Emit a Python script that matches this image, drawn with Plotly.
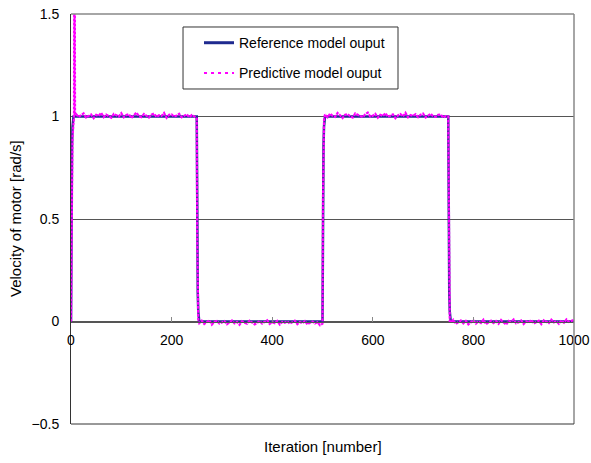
import plotly.graph_objects as go

# ---------------- data ----------------
ref_iter = [0, 1, 2, 3, 5, 250, 251, 252, 253, 255, 500, 501, 502, 503, 505,
            750, 751, 752, 753, 755, 1000]
ref_vel = [0.0, 0.63, 0.86, 0.95, 1.0, 1.0, 0.37, 0.14, 0.05, 0.0, 0.0, 0.63, 0.86, 0.95, 1.0,
           1.0, 0.37, 0.14, 0.05, 0.0, 0.0]

# predictive model output, start-up and transitions
start_iter = [0, 3, 6, 7, 8]
start_vel = [0.0, 0.9, 1.0, 2.6, 1.01]

high1 = [1.012, 0.998, 1.006, 1.015, 0.995, 1.003, 1.010, 0.992, 1.008, 1.004,
         1.018, 0.997, 1.009, 1.002, 0.994, 1.013, 1.006, 1.000, 1.016, 0.996,
         1.007, 1.011, 0.993, 1.005, 1.019, 1.001, 0.997, 1.012, 1.004, 0.995,
         1.009, 1.014, 0.998, 1.006, 1.003, 1.017, 0.994, 1.008, 1.010, 0.999,
         1.005, 1.013, 0.996, 1.002, 1.011, 0.997, 1.007, 1.001]  # from 10, step 5
fall1_iter = [250, 251, 253]
fall1_vel = [0.99, 0.40, 0.01]
low1 = [-0.008, 0.004, -0.012, -0.003, 0.006, -0.015, -0.001, 0.003, -0.010, -0.005,
        0.002, -0.013, -0.004, 0.005, -0.009, -0.002, -0.016, 0.001, -0.006, -0.011,
        0.004, -0.003, -0.014, -0.007, 0.002, -0.010, -0.001, 0.006, -0.012, -0.004,
        -0.008, 0.003, -0.015, -0.002, -0.006, 0.001, -0.011, -0.005, 0.004, -0.013,
        -0.003, -0.009, 0.002, -0.014, -0.006, 0.000, -0.010, -0.004, -0.018]  # from 255
rise2_iter = [500, 501, 503]
rise2_vel = [-0.01, 0.60, 0.98]
high2 = [1.010, 0.996, 1.014, 1.003, 0.998, 1.017, 1.006, 0.993, 1.009, 1.012,
         1.001, 0.995, 1.015, 1.007, 1.002, 0.997, 1.011, 1.019, 0.999, 1.004,
         1.013, 0.994, 1.008, 1.003, 1.016, 0.998, 1.006, 1.010, 0.992, 1.005,
         1.012, 1.000, 1.018, 0.996, 1.007, 1.003, 1.011, 0.997, 1.009, 1.014,
         0.995, 1.004, 1.013, 1.001, 0.998, 1.008, 1.010, 0.995, 1.002]  # from 505
fall2_iter = [750, 751, 753]
fall2_vel = [1.00, 0.38, 0.00]
low2 = [-0.005, 0.008, -0.012, -0.002, 0.005, -0.009, 0.003, -0.014, -0.004, 0.006,
        -0.010, 0.001, -0.007, 0.009, -0.013, -0.003, 0.004, -0.008, 0.002, -0.011,
        0.007, -0.005, -0.015, 0.003, -0.002, 0.010, -0.009, -0.004, 0.005, -0.012,
        0.001, -0.006, 0.008, -0.010, -0.003, 0.004, -0.013, 0.006, -0.001, -0.008,
        0.009, -0.004, 0.002, -0.011, 0.005, -0.006, 0.010, -0.002, 0.003, 0.008]  # from 755

x_ticks = [0, 200, 400, 600, 800, 1000]
y_ticks = [-0.5, 0, 0.5, 1, 1.5]
y_tick_text = ["\u22120.5", "0", "0.5", "1", "1.5"]

# assemble predictive series
def seg(start, vals):
    return [start + 5 * i for i in range(len(vals))]

pred_iter = (start_iter + seg(10, high1) + fall1_iter + seg(255, low1) + rise2_iter
             + seg(505, high2) + fall2_iter + seg(755, low2))
pred_vel = (start_vel + high1 + fall1_vel + low1 + rise2_vel + high2 + fall2_vel + low2)

FONT = "Liberation Sans"
BLUE = "#1f2a8f"
MAG = "#ff00ff"

fig = go.Figure()
fig.add_trace(go.Scatter(
    x=ref_iter, y=ref_vel, mode="lines", name="Reference model ouput",
    line=dict(color=BLUE, width=2.5), legendgroup="a", showlegend=False))
fig.add_trace(go.Scatter(
    x=pred_iter, y=pred_vel, mode="lines", name="Predictive model ouput",
    line=dict(color=MAG, width=2.2, dash="3px,1px"), legendgroup="b", showlegend=False))
# legend entries
fig.add_trace(go.Scatter(
    x=[None], y=[None], mode="lines", name="Reference model ouput",
    line=dict(color=BLUE, width=3), legendgroup="a"))
fig.add_trace(go.Scatter(
    x=[None], y=[None], mode="lines", name="Predictive model ouput",
    line=dict(color=MAG, width=2, dash="3px,4px"), legendgroup="b"))

fig.update_layout(
    width=591, height=463,
    margin=dict(l=71, r=17, t=14, b=39, autoexpand=False),
    paper_bgcolor="white", plot_bgcolor="white",
    font=dict(family=FONT, size=14, color="#000"),
    showlegend=True,
    legend=dict(x=0.2545, y=0.968, xanchor="left", yanchor="top",
                bgcolor="rgba(0,0,0,0)", borderwidth=0,
                font=dict(family=FONT, size=14, color="#000"),
                traceorder="grouped", tracegroupgap=9),
    xaxis=dict(range=[0, 1000], tickvals=x_ticks, anchor="free", position=0.25,
               showline=True, linecolor="#555", linewidth=1,
               ticks="inside", ticklen=5, tickcolor="#888", automargin=False,
               showgrid=False, zeroline=False, ticklabelstandoff=6),
    yaxis=dict(range=[-0.5, 1.5], tickvals=y_ticks, ticktext=y_tick_text,
               showline=True, linecolor="#333", linewidth=1, ticks="", automargin=False,
               showgrid=True, gridcolor="#555", gridwidth=1, zeroline=False,
               ticklabelstandoff=8),
    shapes=[
        dict(type="line", xref="paper", yref="paper", x0=0, x1=1, y0=1, y1=1,
             line=dict(color="#888", width=1.5)),
        dict(type="line", xref="paper", yref="paper", x0=1, x1=1, y0=0, y1=1,
             line=dict(color="#888", width=1.5)),
        dict(type="line", xref="paper", yref="paper", x0=0, x1=1, y0=0, y1=0,
             line=dict(color="#333", width=1)),
        dict(type="rect", xref="paper", yref="paper", x0=0.2227, x1=0.6501,
             y0=0.8171, y1=0.9683, fillcolor="white", layer="above",
             line=dict(color="#333", width=1)),
    ],
    annotations=[
        dict(text="Iteration [number]", xref="paper", yref="paper", x=0.5, y=-0.056,
             xanchor="center", yanchor="middle", showarrow=False,
             font=dict(family=FONT, size=15)),
        dict(text="Velocity of motor [rad/s]", xref="paper", yref="paper", x=-0.1113, y=0.5,
             xanchor="center", yanchor="middle", textangle=-90, showarrow=False,
             font=dict(family=FONT, size=15)),
    ],
)

fig.write_html("out.html")
